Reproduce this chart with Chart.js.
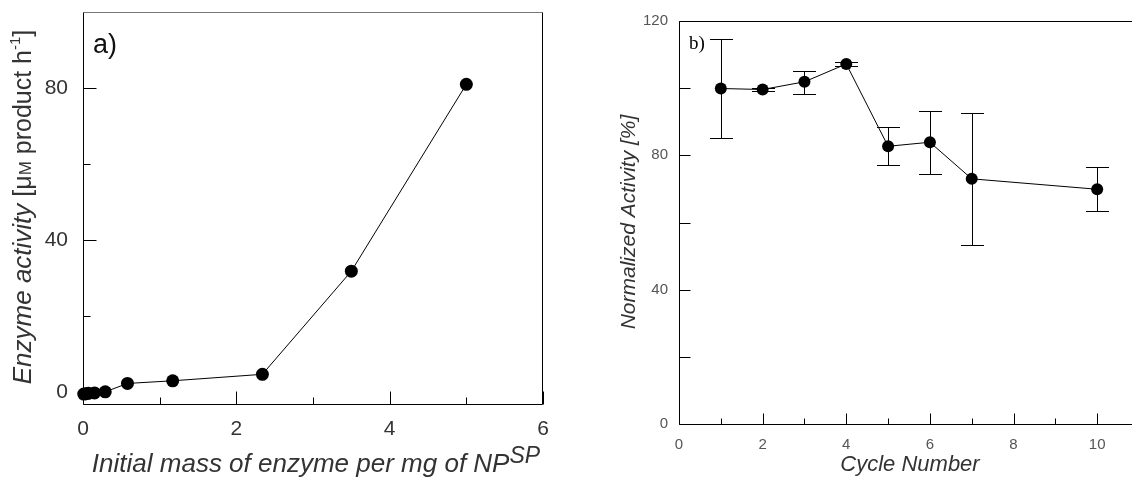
<!DOCTYPE html>
<html>
<head>
<meta charset="utf-8">
<script src="https://cdn.jsdelivr.net/npm/chart.js@4"></script>
<style>
body { margin: 0; background: #fff; width: 1132px; height: 479px; overflow: hidden; position: relative; }
#wa { position: absolute; left: 0; top: 0; width: 566px; height: 479px; }
#wb { position: absolute; left: 566px; top: 0; width: 566px; height: 479px; overflow: hidden; }
</style>
</head>
<body>
<div id="wa"><canvas id="ca" width="566" height="479"></canvas></div>
<div id="wb"><canvas id="cb" width="600" height="479"></canvas></div>
<script>
"use strict";

// panel a) enzyme loading
const massX = [0.01, 0.04, 0.07, 0.15, 0.29, 0.58, 1.17, 2.34, 3.5, 5.0];
const activityY = [-0.4, -0.3, -0.2, -0.1, 0.2, 2.4, 3.1, 4.8, 31.9, 81.0];
const aTicksX = [0, 1, 2, 3, 4, 5, 6];
const aTicksY = [0, 20, 40, 60, 80];

// panel b) reuse cycles
const cycles = [1, 2, 3, 4, 5, 6, 7, 10];
const normAct = [99.9, 99.6, 101.9, 107.2, 82.7, 83.9, 73.0, 69.9];
const errLow = [85.3, 99.2, 98.4, 106.5, 77.0, 74.4, 53.4, 63.5];
const errHigh = [114.5, 100.0, 105.2, 107.9, 88.5, 93.2, 92.5, 76.5];
const bTicksX = [0, 1, 2, 3, 4, 5, 6, 7, 8, 9, 10, 11];
const bTicksY = [0, 20, 40, 60, 80, 100, 120];

const SANS = "'Liberation Sans', Arial, sans-serif";

// draw a line of mixed-style text runs centred on cx
const drawRuns = (ctx, runs, cx, cy, rotate, baseline) => {
    ctx.save();
    ctx.translate(cx, cy);
    if (rotate) ctx.rotate(-Math.PI / 2);
    let total = 0;
    runs.forEach(r => { ctx.font = r.font; r.w = ctx.measureText(r.text).width; total += r.w; });
    let x = -total / 2;
    ctx.textBaseline = baseline || 'middle';
    ctx.textAlign = 'left';
    runs.forEach(r => {
        ctx.font = r.font;
        ctx.fillStyle = r.color || '#333';
        ctx.fillText(r.text, x, r.dy || 0);
        x += r.w;
    });
    ctx.restore();
}

// box plus inward tick marks and the free text
const framePlugin = (cfg) => ({
    id: 'frame',
    beforeDatasetsDraw(chart) {
        const ctx = chart.ctx, a = chart.chartArea;
        const sx = chart.scales.x, sy = chart.scales.y;
        const L = Math.round(a.left) + 0.5, R = Math.round(a.right) - 0.5;
        const T = Math.round(a.top) + 0.5, B = Math.round(a.bottom) + 0.5;
        ctx.save();
        ctx.lineWidth = 1;
        ctx.strokeStyle = cfg.topColor;
        ctx.beginPath(); ctx.moveTo(L, T); ctx.lineTo(R, T); ctx.stroke();
        ctx.strokeStyle = '#000';
        ctx.beginPath();
        ctx.moveTo(L, T); ctx.lineTo(L, B); ctx.lineTo(R, B); ctx.lineTo(R, T);
        cfg.xTicks.forEach(v => {
            const px = Math.round(sx.getPixelForValue(v)) + 0.5;
            const len = v % cfg.xMajor === 0 ? cfg.majorLen : cfg.minorLen;
            ctx.moveTo(px, B); ctx.lineTo(px, B - len);
        });
        cfg.yTicks.forEach(v => {
            const py = Math.round(sy.getPixelForValue(v)) + 0.5;
            const len = v % cfg.yMajor === 0 ? cfg.majorLen : cfg.minorLen;
            ctx.moveTo(L, py); ctx.lineTo(L + len, py);
        });
        ctx.stroke();
        ctx.restore();
    },
    afterDraw(chart) {
        const ctx = chart.ctx;
        cfg.labels.forEach(l => drawRuns(ctx, l.runs, l.x, l.y, l.rotate, l.baseline));
    }
});

const errorBarPlugin = {
    id: 'errbars',
    beforeDatasetsDraw(chart) {
        const ctx = chart.ctx, sx = chart.scales.x, sy = chart.scales.y;
        ctx.save();
        ctx.strokeStyle = '#000';
        ctx.lineWidth = 1;
        ctx.beginPath();
        cycles.forEach((c, i) => {
            const px = Math.round(sx.getPixelForValue(c)) + 0.5;
            const lo = Math.round(sy.getPixelForValue(errLow[i])) + 0.5;
            const hi = Math.round(sy.getPixelForValue(errHigh[i])) + 0.5;
            ctx.moveTo(px, lo); ctx.lineTo(px, hi);
            ctx.moveTo(px - 11.5, lo); ctx.lineTo(px + 11.5, lo);
            ctx.moveTo(px - 11.5, hi); ctx.lineTo(px + 11.5, hi);
        });
        ctx.stroke();
        ctx.restore();
    }
};

const fixedTicks = (vals) => (scale) => { scale.ticks = vals.map(v => ({ value: v })); };

const makeScale = (min, max, vals, every, font, color, padding, size, horizontal) => ({
    type: 'linear',
    min: min,
    max: max,
    afterBuildTicks: fixedTicks(vals),
    afterFit: (s) => {
        if (horizontal) s.height = size; else s.width = size;
        s.paddingTop = 0; s.paddingBottom = 0; s.paddingLeft = 0; s.paddingRight = 0;
    },
    grid: { display: false, drawTicks: false },
    border: { display: false },
    ticks: {
        autoSkip: false,
        maxRotation: 0,
        padding: padding,
        color: color,
        font: font,
        callback: (v) => (v % every === 0 ? String(v) : '')
    }
});

document.addEventListener("DOMContentLoaded", () => {
    // ---- panel a)
    new Chart(document.getElementById('ca').getContext('2d'), {
        type: 'line',
        data: {
            datasets: [{
                data: massX.map((x, i) => ({ x: x, y: activityY[i] })),
                borderColor: '#000',
                borderWidth: 1,
                pointRadius: 6.5,
                pointBackgroundColor: '#000',
                pointBorderColor: '#000',
                pointBorderWidth: 0,
                clip: false,
                tension: 0
            }]
        },
        options: {
            responsive: false,
            animation: false,
            devicePixelRatio: 1,
            layout: { padding: { top: 12, right: 23, left: 0, bottom: 0 } },
            plugins: { legend: { display: false }, tooltip: { enabled: false } },
            scales: {
                x: makeScale(0, 6, aTicksX, 2, { family: SANS, size: 21 }, '#333', 13, 75, true),
                y: makeScale(-3, 100, aTicksY, 40, { family: SANS, size: 21 }, '#333', 15, 83, false)
            }
        },
        plugins: [framePlugin({
            topColor: '#777',
            xTicks: aTicksX, xMajor: 2, yTicks: aTicksY, yMajor: 40,
            majorLen: 13, minorLen: 7,
            labels: [
                { x: 105, y: 46, runs: [{ text: 'a)', font: `27px ${SANS}`, color: '#111' }] },
                {
                    x: 316, y: 472, baseline: 'alphabetic', runs: [
                        { text: 'Initial mass of enzyme per mg of NP', font: `italic 26px ${SANS}` },
                        { text: 'SP', font: `italic 23px ${SANS}`, dy: -9 }
                    ]
                },
                {
                    x: 24, y: 207, rotate: true, runs: [
                        { text: 'Enzyme activity', font: `italic 26px ${SANS}` },
                        { text: ' [μ', font: `25px ${SANS}` },
                        { text: 'M', font: `17px ${SANS}`, dy: 2 },
                        { text: ' product h', font: `25px ${SANS}` },
                        { text: '-1', font: `15px ${SANS}`, dy: -8 },
                        { text: ']', font: `25px ${SANS}` }
                    ]
                }
            ]
        })]
    });

    // ---- panel b)
    new Chart(document.getElementById('cb').getContext('2d'), {
        type: 'line',
        data: {
            datasets: [{
                data: cycles.map((c, i) => ({ x: c, y: normAct[i] })),
                borderColor: '#000',
                borderWidth: 1,
                pointRadius: 6,
                pointBackgroundColor: '#000',
                pointBorderColor: '#000',
                pointBorderWidth: 0,
                clip: false,
                tension: 0
            }]
        },
        options: {
            responsive: false,
            animation: false,
            devicePixelRatio: 1,
            layout: { padding: { top: 21, right: 27, left: 0, bottom: 0 } },
            plugins: { legend: { display: false }, tooltip: { enabled: false } },
            scales: {
                x: makeScale(0, 11, bTicksX, 2, { family: SANS, size: 15 }, '#555', 12, 55, true),
                y: makeScale(0, 120, bTicksY, 40, { family: SANS, size: 15 }, '#555', 11, 113, false)
            }
        },
        plugins: [errorBarPlugin, framePlugin({
            topColor: '#000',
            xTicks: bTicksX, xMajor: 2, yTicks: bTicksY, yMajor: 20,
            majorLen: 11, minorLen: 6,
            labels: [
                { x: 131, y: 44, runs: [{ text: 'b)', font: "19px 'Liberation Serif', serif", color: '#000' }] },
                { x: 344, y: 471, baseline: 'alphabetic', runs: [{ text: 'Cycle Number', font: `italic 22px ${SANS}` }] },
                { x: 63, y: 222, rotate: true, runs: [{ text: 'Normalized Activity [%]', font: `italic 21px ${SANS}` }] }
            ]
        })]
    });
});
</script>
</body>
</html>
